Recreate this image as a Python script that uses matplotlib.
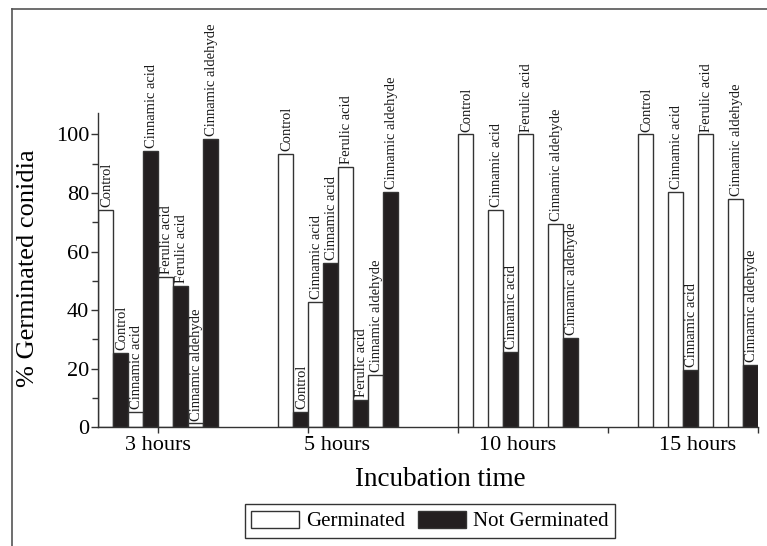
import matplotlib.pyplot as plt
from matplotlib.lines import Line2D
from matplotlib.patches import Patch

plt.rcParams['font.family'] = 'Liberation Serif'

hours = ['3 hours', '5 hours', '10 hours', '15 hours']
treatments = ['Control', 'Cinnamic acid', 'Ferulic acid', 'Cinnamic aldehyde']

# % germinated / not germinated per incubation time, in treatment order
germinated = [
    [74.2, 5.3, 51.4, 1.3],
    [93.3, 42.7, 89.0, 18.0],
    [100.0, 74.3, 100.0, 69.4],
    [100.0, 80.3, 100.0, 78.0],
]
not_germinated = [
    [25.5, 94.3, 48.3, 98.4],
    [5.3, 56.0, 9.3, 80.3],
    [0.0, 25.7, 0.0, 30.5],
    [0.0, 19.7, 0.0, 21.3],
]

edge = '#333333'
dark = '#231f20'

fig = plt.figure(figsize=(7.67, 5.46), dpi=100)
ax = fig.add_axes([97.5/767, 1-427.3/546, (757.5-97.5)/767, (427.3-112.7)/546])

group_step = 12
for g in range(len(hours)):
    for t in range(len(treatments)):
        x0 = g*group_step + 2*t
        pair = ((germinated[g][t], 'white'), (not_germinated[g][t], dark))
        for k, (val, fc) in enumerate(pair):
            if val <= 0:
                continue
            xc = x0 + k + 0.5
            ax.bar(xc, val, width=1, color=fc, edgecolor=edge, linewidth=1)
            ax.annotate(treatments[t], (xc, val), xytext=(1, 2), textcoords='offset points',
                        rotation=90, ha='center', va='bottom', fontsize=10.5, color='#1a1a1a')

ax.set_xlim(0, 44)
ax.set_ylim(0, 107.4)

ax.set_xticks([4, 14, 24, 34, 44])
ax.set_xticklabels([])
ax.set_xticks([4 + group_step*i for i in range(4)], minor=True)
ax.set_xticklabels(hours, minor=True)
ax.xaxis.remove_overlapping_locs = False
ax.tick_params(axis='x', which='major', direction='out', length=4, width=1, color=edge)
ax.tick_params(axis='x', which='minor', length=0, pad=6, labelsize=16)

ax.set_yticks([0, 20, 40, 60, 80, 100])
ax.set_yticks([10, 30, 50, 70, 90], minor=True)
ax.tick_params(axis='y', which='major', direction='out', length=5, width=1, color=edge, labelsize=16, pad=1)
ax.tick_params(axis='y', which='minor', direction='out', length=4, width=1, color=edge)

for s in ('top', 'right'):
    ax.spines[s].set_visible(False)
for s in ('left', 'bottom'):
    ax.spines[s].set_color(edge)
    ax.spines[s].set_linewidth(1)

fig.text(28/767, 1-268/546, '% Germinated conidia', rotation=90, ha='center', va='center', fontsize=19)
fig.text(440/767, 1-480/546, 'Incubation time', ha='center', va='center', fontsize=19.5)

handles = [Patch(facecolor='white', edgecolor=edge, label='Germinated'),
           Patch(facecolor=dark, edgecolor=edge, label='Not Germinated')]
leg = fig.legend(handles=handles, loc='center', bbox_to_anchor=(430/767, 1-521/546), ncol=2,
                 fancybox=False, edgecolor=edge, framealpha=1, fontsize=15,
                 handlelength=2.3, handleheight=0.9, columnspacing=0.6, handletextpad=0.35,
                 borderpad=0.3, borderaxespad=0)
leg.get_frame().set_linewidth(1)

# frame around the figure (only left and top edges visible in the crop)
fig.add_artist(Line2D([12/767, 12/767], [0, 1-9/546], color='#555555', linewidth=1.2))
fig.add_artist(Line2D([12/767, 1], [1-9/546, 1-9/546], color='#555555', linewidth=1.2))

fig.savefig('out.png', dpi=100)
